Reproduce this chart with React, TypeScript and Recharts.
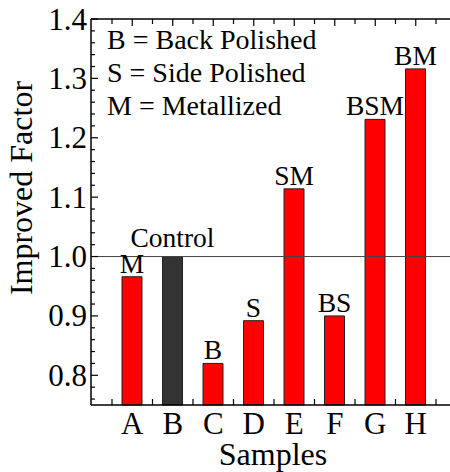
import { BarChart, Bar, XAxis, YAxis, Cell, LabelList, ReferenceLine } from 'recharts';

const samples = ['A', 'B', 'C', 'D', 'E', 'F', 'G', 'H'];
const factors = [0.966, 1.0, 0.82, 0.892, 1.114, 0.9, 1.231, 1.316];
const treatments = ['M', 'Control', 'B', 'S', 'SM', 'BS', 'BSM', 'BM'];
const majorTicks = [0.8, 0.9, 1.0, 1.1, 1.2, 1.3, 1.4];
const minorTicks = [
  0.76, 0.78, 0.82, 0.84, 0.86, 0.88, 0.92, 0.94, 0.96, 0.98, 1.02, 1.04, 1.06,
  1.08, 1.12, 1.14, 1.16, 1.18, 1.22, 1.24, 1.26, 1.28, 1.32, 1.34, 1.36, 1.38,
];
const legendLines = ['B = Back Polished', 'S = Side Polished', 'M = Metallized'];

const data = samples.map((name, i) => ({ name, value: factors[i], treatment: treatments[i] }));
const allTicks = [...majorTicks, ...minorTicks].sort((a, b) => a - b);

const FONT = { fontFamily: 'Liberation Serif, Times New Roman, Times, serif' };
const RED = '#ff0000';
const CONTROL = '#333333';

const LeftTick = (props: any) => {
  const { x, y, payload } = props;
  const major = majorTicks.includes(payload.value);
  return (
    <g>
      <line x1={x} x2={x + (major ? 7 : 4)} y1={y} y2={y} stroke="#000" strokeWidth={1.2} />
      {major && (
        <text x={x - 4} y={y} textAnchor="end" dominantBaseline="central" style={FONT} fontSize={31} fill="#000">
          {payload.value.toFixed(1)}
        </text>
      )}
    </g>
  );
};

const RightTick = (props: any) => {
  const { x, y, payload } = props;
  const major = majorTicks.includes(payload.value);
  return <line x1={x} x2={x - (major ? 7 : 4)} y1={y} y2={y} stroke="#000" strokeWidth={1.2} />;
};

const BottomTick = (props: any) => {
  const { x, y, payload, index } = props;
  const half = payload.offset || 20.25;
  return (
    <g>
      <line x1={x - half} x2={x - half} y1={y} y2={y - 6} stroke="#000" strokeWidth={1.2} />
      {index === samples.length - 1 && (
        <line x1={x + half} x2={x + half} y1={y} y2={y - 6} stroke="#000" strokeWidth={1.2} />
      )}
      <text x={x} y={y + 29} textAnchor="middle" style={FONT} fontSize={31} fill="#000">
        {payload.value}
      </text>
    </g>
  );
};

const TopTick = (props: any) => {
  const { x, y, payload, index } = props;
  const half = payload.offset || 20.25;
  return (
    <g>
      <line x1={x} x2={x} y1={y} y2={y + 7} stroke="#000" strokeWidth={1.2} />
      <line x1={x - half} x2={x - half} y1={y} y2={y + 5} stroke="#000" strokeWidth={1.2} />
      {index === samples.length - 1 && (
        <line x1={x + half} x2={x + half} y1={y} y2={y + 5} stroke="#000" strokeWidth={1.2} />
      )}
    </g>
  );
};

const TreatmentLabel = (props: any) => {
  const vb = props.viewBox ?? props;
  const x = vb.x + vb.width / 2;
  const gap = props.value === 'Control' ? 9.5 : 4;
  return (
    <text x={x} y={vb.y - gap} textAnchor="middle" style={FONT} fontSize={27.5} fill="#000">
      {props.value}
    </text>
  );
};

export default function App() {
  return (
    <div style={{ position: 'fixed', left: 0, top: 0, width: 450, height: 472, overflow: 'hidden', background: '#fff' }}>
      <BarChart width={467} height={472} data={data} margin={{ top: 18, right: 0, bottom: 0, left: 0 }}>
        <XAxis
          dataKey="name"
          height={67}
          padding={{ left: 21, right: 21 }}
          interval={0}
          tickSize={0}
          tickMargin={0}
          tickLine={false}
          axisLine={{ stroke: '#000', strokeWidth: 1.5 }}
          tick={(p: any) => <BottomTick {...p} />}
        />
        <XAxis
          xAxisId="top"
          orientation="top"
          dataKey="name"
          height={1}
          padding={{ left: 21, right: 21 }}
          interval={0}
          tickSize={0}
          tickMargin={0}
          tickLine={false}
          axisLine={{ stroke: '#000', strokeWidth: 1.5 }}
          tick={(p: any) => <TopTick {...p} />}
        />
        <YAxis
          width={91}
          domain={[0.75, 1.4]}
          ticks={allTicks}
          interval={0}
          tickSize={0}
          tickMargin={0}
          tickLine={false}
          axisLine={{ stroke: '#000', strokeWidth: 1.5 }}
          tick={(p: any) => <LeftTick {...p} />}
        />
        <YAxis
          yAxisId="right"
          orientation="right"
          width={10}
          domain={[0.75, 1.4]}
          ticks={allTicks}
          interval={0}
          tickSize={0}
          tickMargin={0}
          tickLine={false}
          axisLine={{ stroke: '#000', strokeWidth: 1.5 }}
          tick={(p: any) => <RightTick {...p} />}
        />
        <Bar dataKey="value" barSize={20} stroke="#222" strokeWidth={1} isAnimationActive={false}>
          {data.map((d) => (
            <Cell key={d.name} fill={d.treatment === 'Control' ? CONTROL : RED} />
          ))}
          <LabelList dataKey="treatment" content={(p: any) => <TreatmentLabel {...p} />} />
        </Bar>
        <ReferenceLine y={1} stroke="#444" strokeWidth={1} />
      </BarChart>
      <svg width={450} height={472} style={{ position: 'absolute', left: 0, top: 0, pointerEvents: 'none' }}>
        {legendLines.map((line, i) => (
          <text key={line} x={107} y={49 + i * 33} style={FONT} fontSize={28} fill="#000">
            {line}
          </text>
        ))}
        <text x={273} y={465} textAnchor="middle" style={FONT} fontSize={32} fill="#000">
          Samples
        </text>
        <text transform="translate(31.5,188) rotate(-90)" textAnchor="middle" style={FONT} fontSize={32} fill="#000">
          Improved Factor
        </text>
      </svg>
    </div>
  );
}
